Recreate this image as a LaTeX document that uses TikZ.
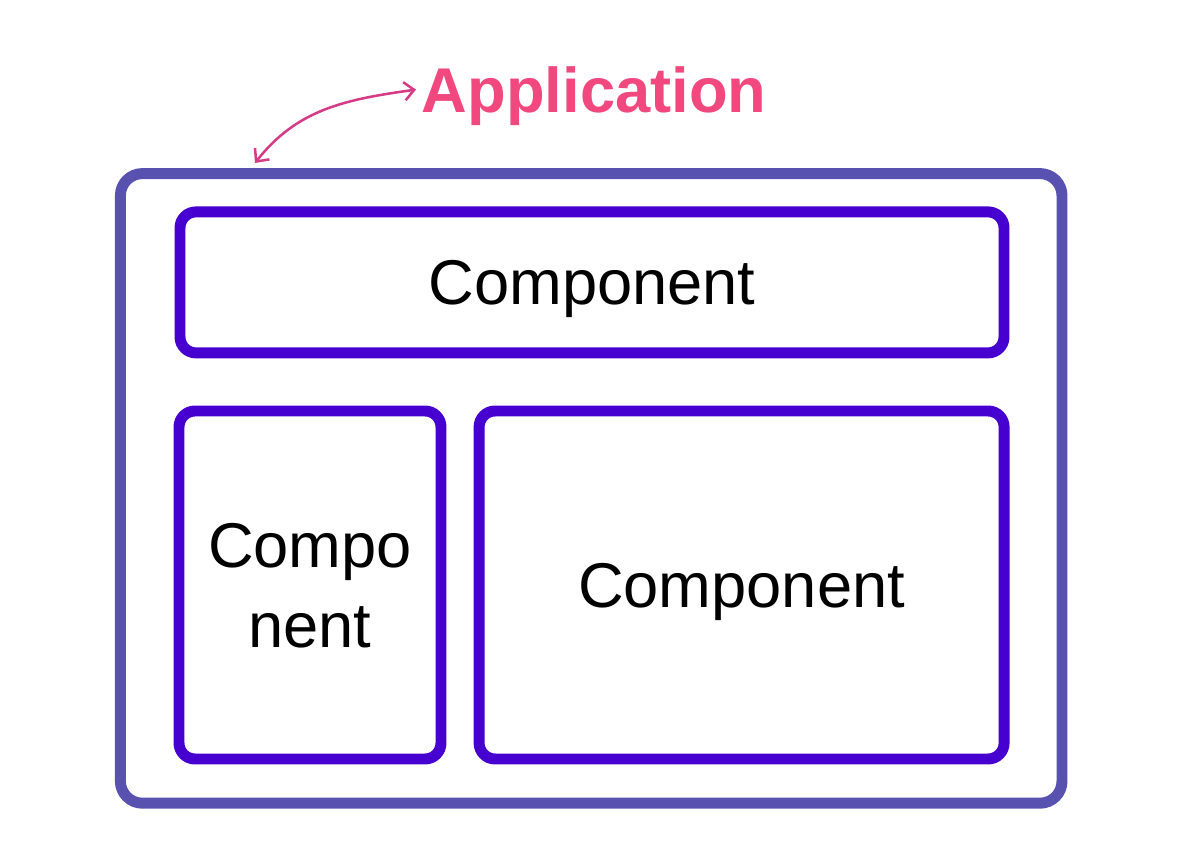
\documentclass[tikz,border=0pt]{standalone}
\usepackage{fontspec}
\setmainfont{Liberation Sans}
\usepackage{tikz}
\usetikzlibrary{arrows.meta}

\definecolor{appframe}{RGB}{88,81,176}
\definecolor{compframe}{RGB}{70,0,208}
\definecolor{apppink}{RGB}{242,72,128}
\definecolor{arrowpink}{RGB}{214,60,134}

\begin{document}
\begin{tikzpicture}[
        appbox/.style={draw=appframe, line width=7.8pt, rounded corners=0.55cm, inner sep=0pt},
        compbox/.style={draw=compframe, line width=7.8pt, rounded corners=0.4cm, inner sep=0pt,
            align=center, text depth=0pt, font=\fontsize{45pt}{57pt}\selectfont},
        pointer/.style={{Straight Barb[length=7pt,width=13pt]}-{Straight Barb[length=7pt,width=13pt]},
            arrowpink, line width=1.8pt}
    ]
        \useasboundingbox (0,0) rectangle (30.05,21.2);

        % Rahmen der Anwendung
        \node[appbox, minimum width=23.54cm, minimum height=15.74cm] (app) at (14.78, 8.99) {};

        % Komponenten
        \node[compbox, minimum width=20.6cm, minimum height=3.525cm] (top) at (14.8, 14.14) {Component};
        \node[compbox, minimum width=6.55cm, minimum height=8.7cm] (left) at (7.75, 6.575) {Compo\\nent};
        \node[compbox, minimum width=13.125cm, minimum height=8.7cm] (right) at (18.54, 6.575) {Component};

        % Beschriftung mit Pfeil
        \node[font=\fontsize{45pt}{57pt}\selectfont\bfseries, text=apppink, anchor=base west, inner sep=4pt]
            (label) at (10.4, 18.375) {Application};
        \coordinate (tip) at (6.375, 17.125);
        \draw[pointer] ([yshift=5pt]label.west) to[out=188, in=52] (tip);
    \end{tikzpicture}
\end{document}
